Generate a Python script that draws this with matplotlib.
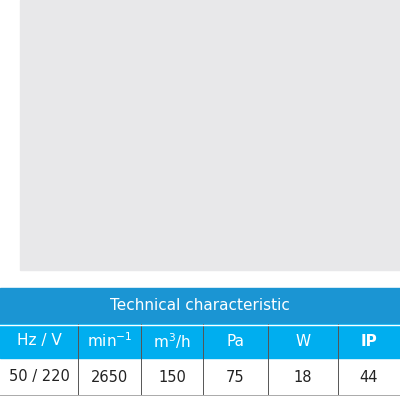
import matplotlib
matplotlib.use("Agg")
import matplotlib.pyplot as plt
from matplotlib.patches import Rectangle

flow_50 = [0, 10, 20, 30, 40, 50, 60, 70, 80, 88, 95, 102, 110, 120, 130, 143]
pa_50 = [72, 66, 60, 55, 50, 46, 43, 40.5, 38, 35.5, 32, 27, 20, 14, 8, 0]
flow_60 = [0, 20, 40, 60, 80, 100, 120, 140, 160, 180]
pa_60 = [92, 80, 68, 60, 54, 46, 37, 25, 12, 0]
x_ticks = [0, 40, 80, 120, 160, 200]
y_ticks = [20, 60]
headers = ["Hz / V", "min$^{-1}$", "m$^3$/h", "Pa", "W", "IP"]
values = ["50 / 220", "2650", "150", "75", "18", "44"]

BLUE = "#1e9cd7"
fig = plt.figure(figsize=(4, 4), dpi=100)
fig.patch.set_facecolor("white")
fig.patches.append(Rectangle((0.05, 1 - 270/400), 0.95, 270/400, transform=fig.transFigure,
                             color="#e8e8ea", zorder=0))

ax = fig.add_axes([0.1825, 0.4275, 0.545, 0.5425])
ax.set_facecolor("white")
ax.plot(flow_50, pa_50, color=BLUE, lw=2.2, solid_capstyle="butt")
ax.plot(flow_60, pa_60, color=BLUE, lw=2.2, dashes=(5, 4))
ax.set_xlim(0, 200)
ax.set_ylim(0, 100)
ax.set_xticks([40, 80, 120, 160], minor=False)
ax.set_yticks([20, 40, 60, 80], minor=False)
ax.grid(True, color="#333333", lw=0.8)
ax.set_xticklabels([])
ax.set_yticklabels([])
ax.tick_params(length=0)
for s in ax.spines.values():
    s.set_linewidth(2.5)
    s.set_color("#111111")
for t in x_ticks:
    ax.text(t, -7, str(t), ha="center", va="top", fontsize=8.5, color="#222222", clip_on=False)
for t in y_ticks:
    ax.text(-12, t, str(t), ha="right", va="center", fontsize=8.5, color="#222222", clip_on=False)
    ax.plot([-4, 0], [t, t], color="#111111", lw=2.5, clip_on=False)
for t in [40, 80, 120, 160]:
    ax.plot([t, t], [0, 2.5], color="#111111", lw=2.5)
ax.text(-30, 100, "Pa", ha="right", va="top", fontsize=13, color="#222222", clip_on=False)
ax.text(1.18, -0.1, "m$^3$/h", transform=ax.transAxes, fontsize=12, color="#222222", va="center")
ax.text(158, 80, "60 Hz", color=BLUE, fontsize=10, ha="right", va="center")
ax.plot([160, 184], [80, 80], color="#111111", lw=2.2, dashes=(3, 2))
ax.text(158, 71.5, "50 Hz", color=BLUE, fontsize=10, ha="right", va="center")
ax.plot([160, 184], [71.5, 71.5], color="#111111", lw=2.2)

# table
def fy(p):
    return 1 - p / 400
fig.patches.append(Rectangle((0, fy(324)), 1, (324-288)/400, transform=fig.transFigure, color="#1b95d3", zorder=1))
fig.patches.append(Rectangle((0, fy(358)), 1, (358-324)/400, transform=fig.transFigure, color="#00aeef", zorder=1))
fig.text(0.5, fy(306), "Technical characteristic", ha="center", va="center", fontsize=11, color="white")
edges = [0, 78, 141, 203, 268, 338, 400]
for i in range(6):
    cx = (edges[i] + edges[i+1]) / 2 / 400
    fig.text(cx, fy(341), headers[i], ha="center", va="center", fontsize=11, color="white",
             fontweight="bold" if headers[i] == "IP" else "normal")
    fig.text(cx, fy(377), values[i], ha="center", va="center", fontsize=10.5, color="#222222")
for e in edges[1:-1]:
    fig.add_artist(plt.Line2D([e/400, e/400], [fy(394), fy(324)], color="#555555", lw=0.7))
fig.add_artist(plt.Line2D([0, 1], [fy(324.5), fy(324.5)], color="white", lw=1))
fig.add_artist(plt.Line2D([0, 1], [fy(395), fy(395)], color="#aaaaaa", lw=0.7))

fig.savefig("out.png", dpi=100)
